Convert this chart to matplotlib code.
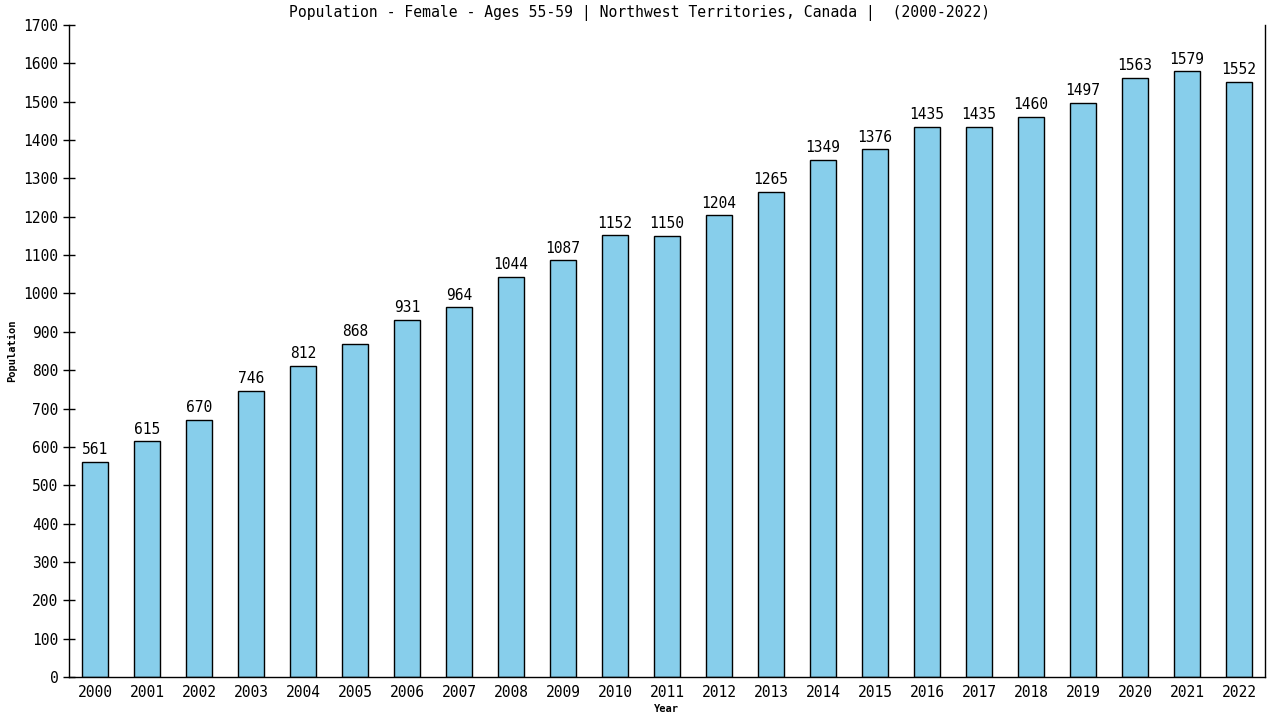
import matplotlib
matplotlib.use('Agg')
from matplotlib import pyplot as plt

years = [str(y) for y in range(2000, 2023)]
population = [561, 615, 670, 746, 812, 868, 931, 964, 1044, 1087, 1152, 1150,
              1204, 1265, 1349, 1376, 1435, 1435, 1460, 1497, 1563, 1579, 1552]
yticks = list(range(0, 1800, 100))

plt.rcParams['font.family'] = ['DejaVu Sans Mono']

fig = plt.figure(figsize=(12.8, 7.2), dpi=100)
ax = fig.add_axes([69 / 1280, 1 - 677 / 720, (1265 - 69) / 1280, (677 - 25) / 720])

x = list(range(len(years)))
ax.bar(x, population, width=0.5, color='#87CEEB', edgecolor='black', linewidth=1)
for xi, v in zip(x, population):
    ax.text(xi, v + 12, str(v), ha='center', va='bottom', fontsize=10.5)

ax.set_xlim(-0.5, len(years) - 0.5)
ax.set_ylim(0, 1700)
ax.set_xticks(x)
ax.set_xticklabels(years, fontsize=10.5)
ax.set_yticks(yticks)
ax.set_yticklabels([str(t) for t in yticks], fontsize=10.5)
ax.tick_params(axis='y', direction='inout', length=9, width=1, pad=3)
ax.tick_params(axis='x', length=0, pad=6)
ax.spines['top'].set_visible(False)
for s in ['left', 'bottom', 'right']:
    ax.spines[s].set_linewidth(1)

fig.text(0.5, 1 - 13 / 720, 'Population - Female - Ages 55-59 | Northwest Territories, Canada |  (2000-2022)',
         ha='center', va='center', fontsize=10.6)
fig.text(666 / 1280, 1 - 709 / 720, 'Year', ha='center', va='center', fontsize=7.5, fontweight='bold')
fig.text(12 / 1280, 1 - 351 / 720, 'Population', ha='center', va='center', fontsize=7.5,
         fontweight='bold', rotation=90)

fig.savefig('out.png', dpi=100)
